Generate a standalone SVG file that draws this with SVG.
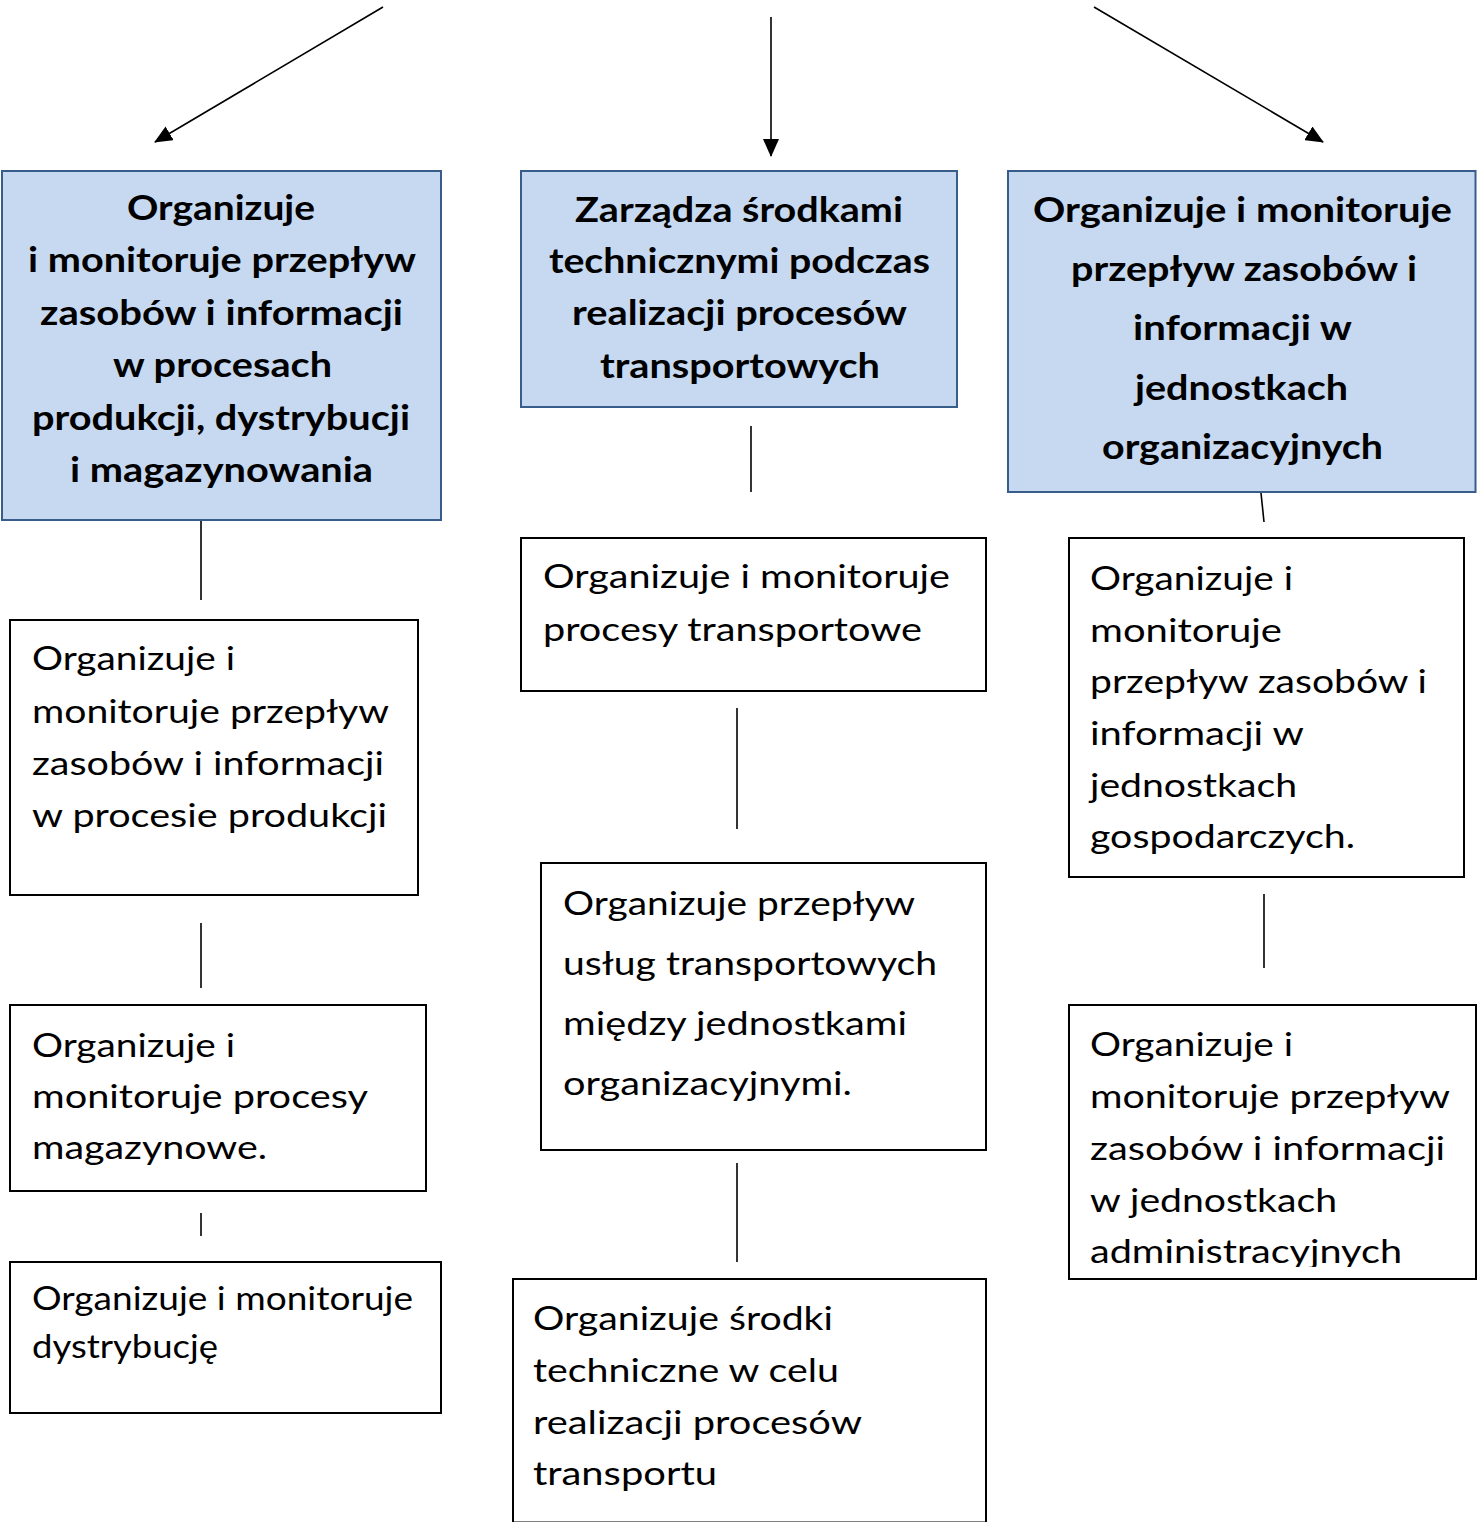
<svg xmlns="http://www.w3.org/2000/svg" width="1477" height="1522" viewBox="0 0 1477 1522">
<style>
.bg{fill:#ffffff}
.hdr{fill:#C6D9F1;stroke:#385D8A;stroke-width:2}
.box{fill:#ffffff;stroke:#000000;stroke-width:2}
.conn{stroke:#000000;stroke-width:1.6;fill:none}
.b{font-family:Lato,"Open Sans","Liberation Sans",sans-serif;font-weight:bold;font-size:35px;fill:#000}
.r{font-family:Lato,"Open Sans","Liberation Sans",sans-serif;font-size:33px;fill:#000}
</style>
<defs>
<marker id="ah" markerUnits="userSpaceOnUse" markerWidth="18" markerHeight="16" refX="17" refY="8" orient="auto" viewBox="0 0 18 16">
<path d="M0,0 L18,8 L0,16 z" fill="#000"/>
</marker>
<clipPath id="clipR2"><rect x="1069" y="1005" width="408" height="262"/></clipPath>
</defs>
<rect class="bg" x="0" y="0" width="1477" height="1522"/>

<g id="connectors">
<line class="conn" x1="383" y1="7" x2="155" y2="142" marker-end="url(#ah)"/>
<line class="conn" x1="771" y1="17" x2="771" y2="156" marker-end="url(#ah)"/>
<line class="conn" x1="1094" y1="7" x2="1323" y2="142" marker-end="url(#ah)"/>
<line class="conn" x1="201" y1="520" x2="201" y2="600"/>
<line class="conn" x1="201" y1="923" x2="201" y2="988"/>
<line class="conn" x1="201" y1="1213" x2="201" y2="1236"/>
<line class="conn" x1="751" y1="426" x2="751" y2="492"/>
<line class="conn" x1="737" y1="708" x2="737" y2="829"/>
<line class="conn" x1="737" y1="1163" x2="737" y2="1262"/>
<line class="conn" x1="1261" y1="493" x2="1264" y2="522"/>
<line class="conn" x1="1264" y1="894" x2="1264" y2="968"/>
</g>

<g id="hdr-left">
<rect class="hdr" x="2" y="171" width="439" height="349"/>
<text class="b" x="127" y="220" textLength="188" lengthAdjust="spacingAndGlyphs">Organizuje</text>
<text class="b" x="28" y="272" textLength="388" lengthAdjust="spacingAndGlyphs">i monitoruje przepływ</text>
<text class="b" x="40" y="325" textLength="363" lengthAdjust="spacingAndGlyphs">zasobów i informacji</text>
<text class="b" x="113" y="377" textLength="219" lengthAdjust="spacingAndGlyphs">w procesach</text>
<text class="b" x="32" y="430" textLength="378" lengthAdjust="spacingAndGlyphs">produkcji, dystrybucji</text>
<text class="b" x="70" y="482" textLength="303" lengthAdjust="spacingAndGlyphs">i magazynowania</text>
</g>

<g id="hdr-middle">
<rect class="hdr" x="521" y="171" width="436" height="236"/>
<text class="b" x="575" y="222" textLength="328" lengthAdjust="spacingAndGlyphs">Zarządza środkami</text>
<text class="b" x="549" y="273" textLength="381" lengthAdjust="spacingAndGlyphs">technicznymi podczas</text>
<text class="b" x="572" y="325" textLength="335" lengthAdjust="spacingAndGlyphs">realizacji procesów</text>
<text class="b" x="600" y="378" textLength="280" lengthAdjust="spacingAndGlyphs">transportowych</text>
</g>

<g id="hdr-right">
<rect class="hdr" x="1008" y="171" width="467.5" height="321"/>
<text class="b" x="1033" y="222" textLength="419" lengthAdjust="spacingAndGlyphs">Organizuje i monitoruje</text>
<text class="b" x="1071" y="281" textLength="346" lengthAdjust="spacingAndGlyphs">przepływ zasobów i</text>
<text class="b" x="1133" y="340" textLength="219" lengthAdjust="spacingAndGlyphs">informacji w</text>
<text class="b" x="1135" y="400" textLength="213" lengthAdjust="spacingAndGlyphs">jednostkach</text>
<text class="b" x="1102" y="459" textLength="281" lengthAdjust="spacingAndGlyphs">organizacyjnych</text>
</g>

<g id="left-1">
<rect class="box" x="10" y="620" width="408" height="275"/>
<text class="r" x="32" y="670" textLength="203" lengthAdjust="spacingAndGlyphs">Organizuje i</text>
<text class="r" x="32" y="723" textLength="357" lengthAdjust="spacingAndGlyphs">monitoruje przepływ</text>
<text class="r" x="32" y="775" textLength="352" lengthAdjust="spacingAndGlyphs">zasobów i informacji</text>
<text class="r" x="32" y="827" textLength="355" lengthAdjust="spacingAndGlyphs">w procesie produkcji</text>
</g>

<g id="left-2">
<rect class="box" x="10" y="1005" width="416" height="186"/>
<text class="r" x="32" y="1057" textLength="203" lengthAdjust="spacingAndGlyphs">Organizuje i</text>
<text class="r" x="32" y="1108" textLength="336" lengthAdjust="spacingAndGlyphs">monitoruje procesy</text>
<text class="r" x="32" y="1159" textLength="235" lengthAdjust="spacingAndGlyphs">magazynowe.</text>
</g>

<g id="left-3">
<rect class="box" x="10" y="1262" width="431" height="151"/>
<text class="r" x="32" y="1310" textLength="381" lengthAdjust="spacingAndGlyphs">Organizuje i monitoruje</text>
<text class="r" x="32" y="1358" textLength="186" lengthAdjust="spacingAndGlyphs">dystrybucję</text>
</g>

<g id="mid-1">
<rect class="box" x="521" y="538" width="465" height="153"/>
<text class="r" x="543" y="588" textLength="407" lengthAdjust="spacingAndGlyphs">Organizuje i monitoruje</text>
<text class="r" x="543" y="641" textLength="379" lengthAdjust="spacingAndGlyphs">procesy transportowe</text>
</g>

<g id="mid-2">
<rect class="box" x="541" y="863" width="445" height="287"/>
<text class="r" x="563" y="915" textLength="352" lengthAdjust="spacingAndGlyphs">Organizuje przepływ</text>
<text class="r" x="563" y="975" textLength="374" lengthAdjust="spacingAndGlyphs">usług transportowych</text>
<text class="r" x="563" y="1035" textLength="344" lengthAdjust="spacingAndGlyphs">między jednostkami</text>
<text class="r" x="563" y="1095" textLength="289" lengthAdjust="spacingAndGlyphs">organizacyjnymi.</text>
</g>

<g id="mid-3">
<rect class="box" x="513" y="1279" width="473" height="243.5"/>
<text class="r" x="533" y="1330" textLength="300" lengthAdjust="spacingAndGlyphs">Organizuje środki</text>
<text class="r" x="533" y="1382" textLength="306" lengthAdjust="spacingAndGlyphs">techniczne w celu</text>
<text class="r" x="533" y="1434" textLength="329" lengthAdjust="spacingAndGlyphs">realizacji procesów</text>
<text class="r" x="533" y="1485" textLength="184" lengthAdjust="spacingAndGlyphs">transportu</text>
</g>

<g id="right-1">
<rect class="box" x="1069" y="538" width="395" height="339"/>
<text class="r" x="1090" y="590" textLength="203" lengthAdjust="spacingAndGlyphs">Organizuje i</text>
<text class="r" x="1090" y="642" textLength="192" lengthAdjust="spacingAndGlyphs">monitoruje</text>
<text class="r" x="1090" y="693" textLength="337" lengthAdjust="spacingAndGlyphs">przepływ zasobów i</text>
<text class="r" x="1090" y="745" textLength="214" lengthAdjust="spacingAndGlyphs">informacji w</text>
<text class="r" x="1090" y="797" textLength="207" lengthAdjust="spacingAndGlyphs">jednostkach</text>
<text class="r" x="1090" y="848" textLength="265" lengthAdjust="spacingAndGlyphs">gospodarczych.</text>
</g>

<g id="right-2">
<rect class="box" x="1069" y="1005" width="407" height="274"/>
<g clip-path="url(#clipR2)">
<text class="r" x="1090" y="1056" textLength="203" lengthAdjust="spacingAndGlyphs">Organizuje i</text>
<text class="r" x="1090" y="1108" textLength="360" lengthAdjust="spacingAndGlyphs">monitoruje przepływ</text>
<text class="r" x="1090" y="1160" textLength="355" lengthAdjust="spacingAndGlyphs">zasobów i informacji</text>
<text class="r" x="1090" y="1212" textLength="247" lengthAdjust="spacingAndGlyphs">w jednostkach</text>
<text class="r" x="1090" y="1263" textLength="312" lengthAdjust="spacingAndGlyphs">administracyjnych</text>
</g>
</g>
</svg>
